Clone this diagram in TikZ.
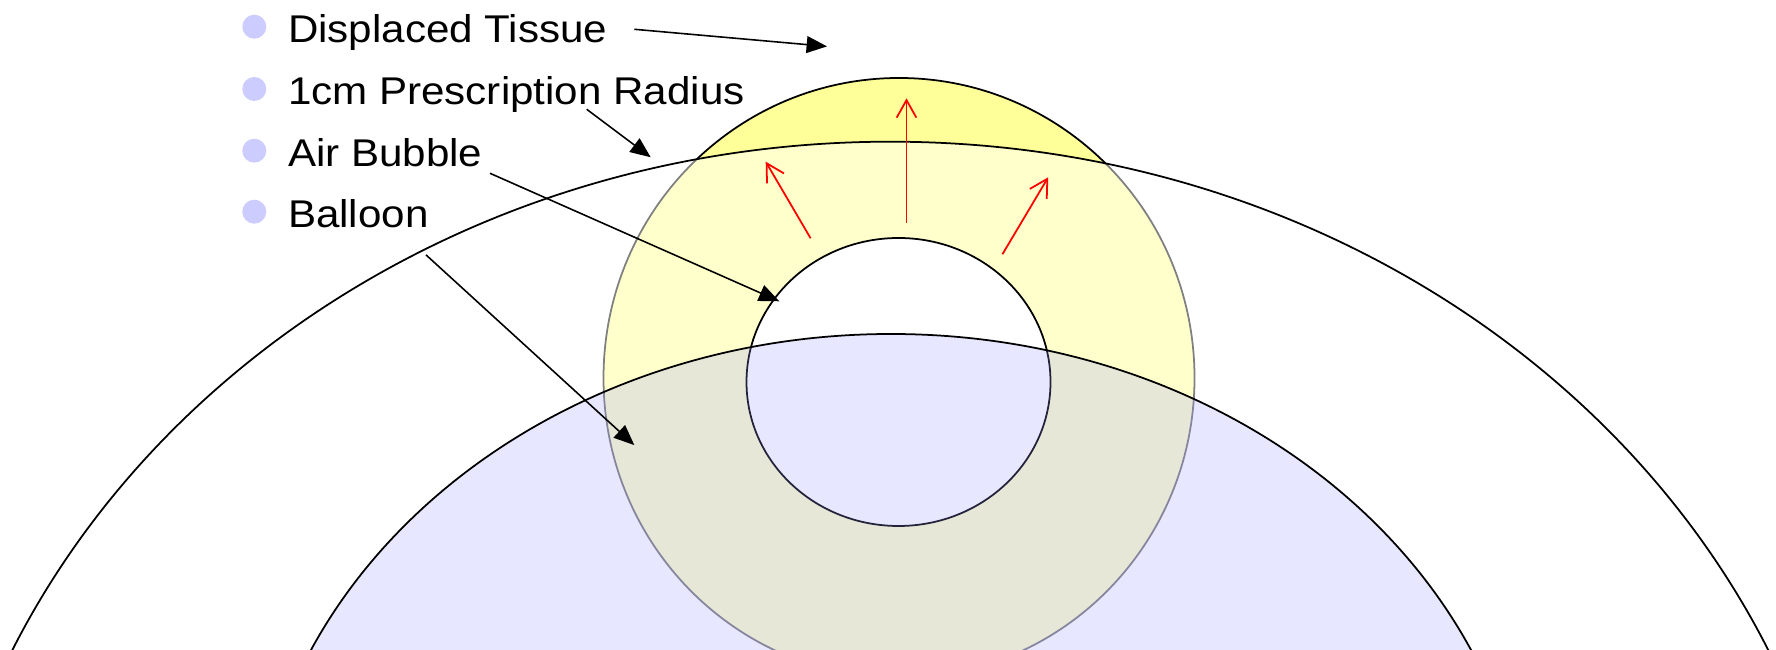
\documentclass[tikz,border=0pt]{standalone}
\usepackage{fontspec}
\newfontfamily\lblfont[FakeStretch=1.09]{Liberation Sans}
\usetikzlibrary{arrows.meta}
\definecolor{cTissue}{HTML}{FFFF99}
\definecolor{cBalloon}{HTML}{9999FF}
\definecolor{cBullet}{HTML}{CCCCFF}

\begin{document}
\begin{tikzpicture}[
    x=1cm, y=1cm, font=\lblfont\fontsize{11}{13}\selectfont,
    tissue/.style={fill=cTissue, draw=black, line width=0.5pt},
    rxzone/.style={fill=white, fill opacity=0.5, draw=black, line width=0.5pt},
    bubble/.style={fill=white, draw=black, line width=0.5pt},
    balloon/.style={fill=cBalloon, fill opacity=0.23, draw=black, line width=0.5pt},
    lead/.style={-{Triangle[length=5.8pt, width=4.8pt]}, line width=0.45pt},
    push/.style={-{Straight Barb[length=5pt, width=5.6pt]}, line width=0.5pt, red},
    dot/.style={circle, fill=cBullet, inner sep=0pt, minimum size=0.24cm},
    lbl/.style={inner sep=0pt, anchor=base west},
]
\useasboundingbox (0,0) rectangle (17.76,6.50);
\clip (0,0) rectangle (17.76,6.50);

% ===================== Zonas =====================
% El orden importa: cada relleno translucido aclara lo que queda debajo.
\draw[tissue] (8.99,2.72) ellipse [x radius=2.955, y radius=3.00];
\draw[rxzone] (8.903,-3.617) ellipse [x radius=9.65, y radius=8.70];
\draw[bubble] (8.985,2.68) ellipse [x radius=1.52, y radius=1.44];
\draw[balloon] (8.91,-2.29) ellipse [x radius=6.39, y radius=5.45];

% ===================== Empuje del aire =====================
\draw[push] (8.106,4.117) -- (7.657,4.883);
\draw[push] (9.065,4.273) -- (9.065,5.517);
\draw[push] (10.024,3.957) -- (10.482,4.727);

% ===================== Leyenda =====================
\foreach \n/\y/\t in {tDisp/6.073/{Displaced Tissue},
                      tRad/5.450/{1cm Prescription Radius},
                      tBub/4.833/{Air Bubble},
                      tBal/4.223/{Balloon}} {
    \node[dot] (d\n) at (2.543,\y+0.16) {};
    \node[lbl] (\n) at (2.873,\y) {\t};
}

% ===================== Flechas de la leyenda =====================
\coordinate (dispA) at (6.343,6.207);  \coordinate (dispB) at (8.27,6.036);
\coordinate (radA)  at (5.867,5.407);  \coordinate (radB)  at (6.507,4.927);
\coordinate (bubA)  at (4.90,4.767);   \coordinate (bubB)  at (7.793,3.487);
\coordinate (balA)  at (4.26,3.951);   \coordinate (balB)  at (6.343,2.049);

\draw[lead] (dispA) -- (dispB);
\draw[lead] (radA) -- (radB);
\draw[lead] (bubA) -- (bubB);
\draw[lead] (balA) -- (balB);

\end{tikzpicture}
\end{document}
